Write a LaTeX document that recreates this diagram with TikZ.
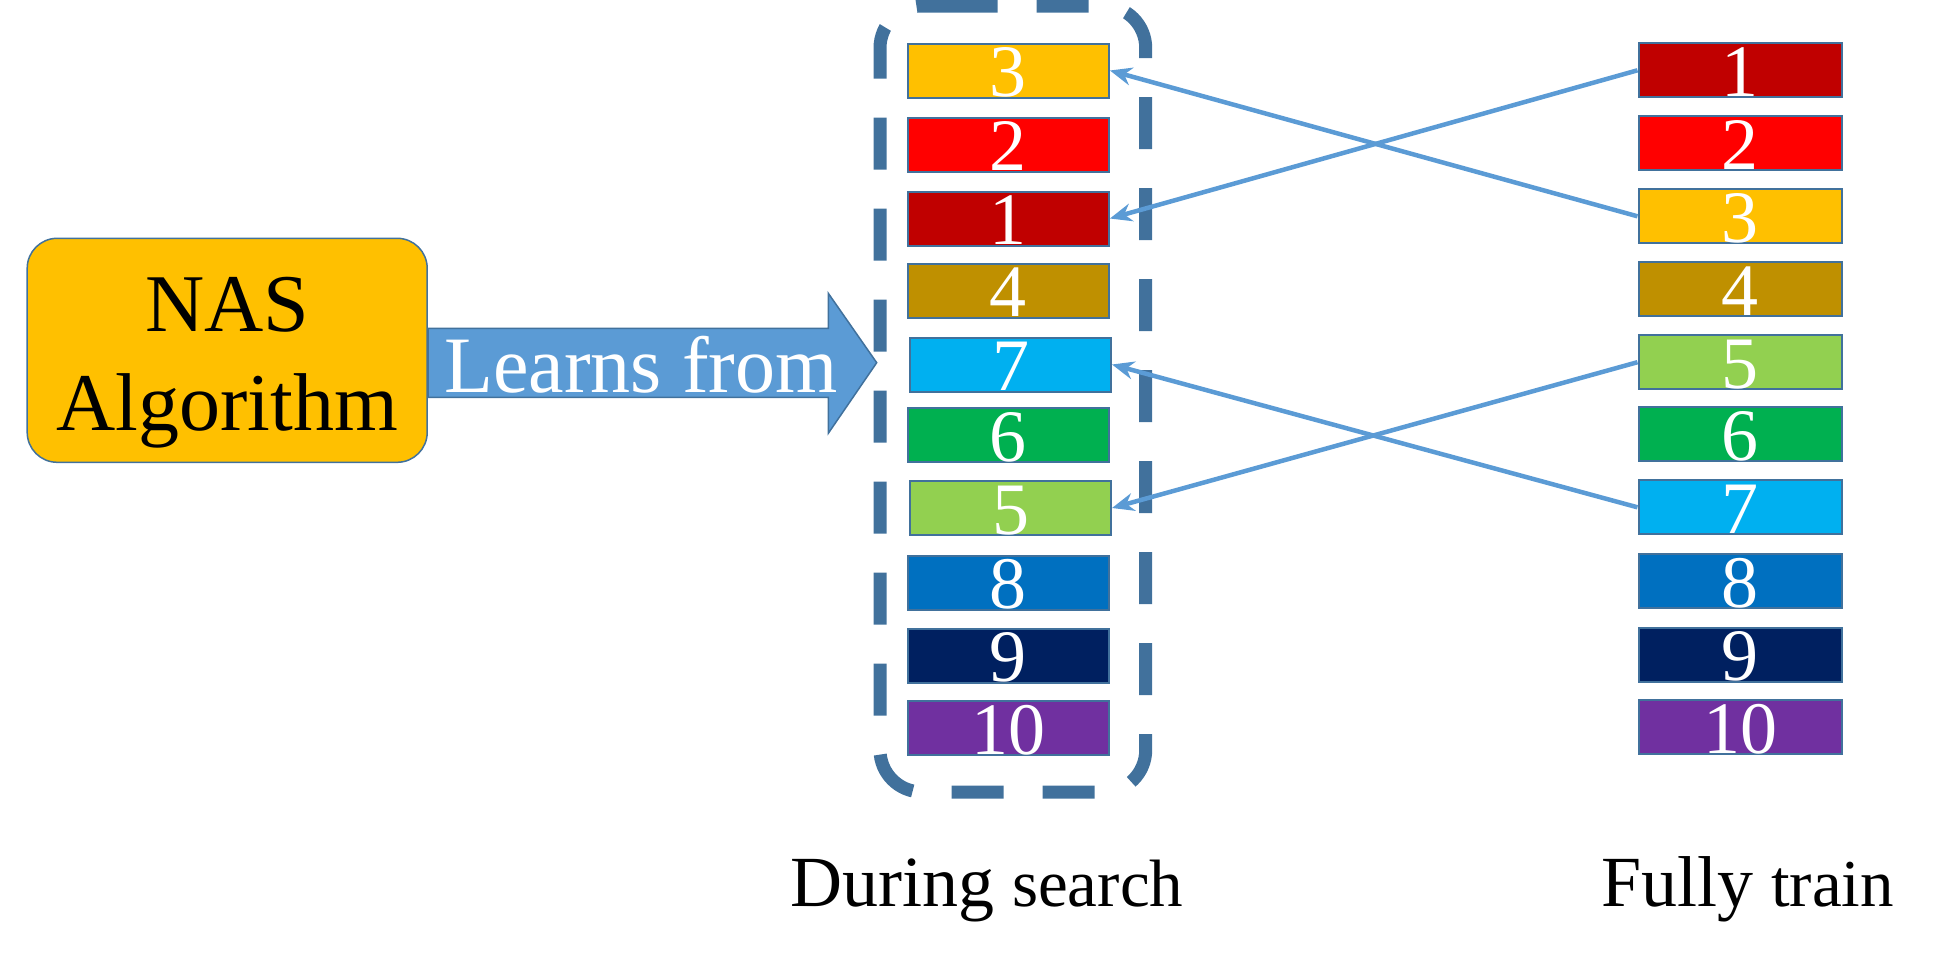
\documentclass[tikz,border=0pt]{standalone}
\usepackage{fontspec}
\setmainfont{Liberation Serif}
\usetikzlibrary{arrows.meta}
\definecolor{c1}{HTML}{C00000}
\definecolor{c2}{HTML}{FF0000}
\definecolor{c3}{HTML}{FFC000}
\definecolor{c4}{HTML}{BF9000}
\definecolor{c5}{HTML}{92D050}
\definecolor{c6}{HTML}{00B050}
\definecolor{c7}{HTML}{00B0F0}
\definecolor{c8}{HTML}{0070C0}
\definecolor{c9}{HTML}{002060}
\definecolor{c10}{HTML}{7030A0}
\definecolor{edgeblue}{HTML}{41719C}
\definecolor{connblue}{HTML}{5B9BD5}
\definecolor{nasfill}{HTML}{FFC000}
\tikzset{
  rankbox/.style={draw=edgeblue, line width=2pt, text height=52pt, text depth=0pt,
    inner ysep=1pt, inner xsep=0pt, text=white, font=\fontsize{74}{80}\selectfont},
  leftbox/.style={rankbox, minimum width=201pt},
  rightbox/.style={rankbox, minimum width=203pt},
  rankarrow/.style={draw=connblue, line width=4.5pt, -{Stealth[length=22pt,width=18pt]}},
  frame/.style={draw=edgeblue, line width=13pt, dash pattern=on 52pt off 39pt, rounded corners=42pt},
  bigtext/.style={inner sep=0pt, font=\fontsize{82}{99}\selectfont},
}
\begin{document}
\begin{tikzpicture}[x=1pt,y=-1pt]
\useasboundingbox (0,0) rectangle (1936,972);

% dashed frame around search ranking
\draw[frame] (945.7,6) -- (1145.7,6) -- (1145.7,792) -- (880,792) -- (880,6) -- (946,6);

% block arrow "Learns from"
\coordinate (ab1) at (428,328.3);
\draw[fill=connblue, draw=edgeblue, line width=1.5pt]
  (ab1) -- (828.3,328.3) -- (828.3,293.3) -- (876.7,362.7) -- (828.3,433.3)
  -- (828.3,397.3) -- (428,397.3) -- cycle;
\node[inner sep=0pt, anchor=base, text=white, font=\fontsize{80}{90}\selectfont] (learns) at (641,392.7) {Learns from};

% NAS box
\node[draw=edgeblue, line width=1.5pt, fill=nasfill, rounded corners=30pt,
      minimum width=400pt, minimum height=224pt, inner sep=0pt] (nas) at (227.2,350.3) {};
\node[bigtext, anchor=base] (nas1) at (227.5,331) {NAS};
\node[bigtext, anchor=base] (nas2) at (227.5,430) {Algorithm};

% left column (during search)
\node[leftbox, fill=c3]  (L3)  at (1008.4,70.5)  {3};
\node[leftbox, fill=c2]  (L2)  at (1008.4,144.5) {2};
\node[leftbox, fill=c1]  (L1)  at (1008.4,218.5) {1};
\node[leftbox, fill=c4]  (L4)  at (1008.4,290.5) {4};
\node[leftbox, fill=c7]  (L7)  at (1010.5,364.5) {7};
\node[leftbox, fill=c6]  (L6)  at (1008.4,435.3) {6};
\node[leftbox, fill=c5]  (L5)  at (1010.5,508)   {5};
\node[leftbox, fill=c8]  (L8)  at (1008.4,582.5) {8};
\node[leftbox, fill=c9]  (L9)  at (1008.4,655.5) {9};
\node[leftbox, fill=c10] (L10) at (1008.4,728.3) {10};

% right column (fully train)
\node[rightbox, fill=c1]  (R1)  at (1740,70.3)  {1};
\node[rightbox, fill=c2]  (R2)  at (1740,143.3) {2};
\node[rightbox, fill=c3]  (R3)  at (1740,216.3) {3};
\node[rightbox, fill=c4]  (R4)  at (1740,289)   {4};
\node[rightbox, fill=c5]  (R5)  at (1740,362.2) {5};
\node[rightbox, fill=c6]  (R6)  at (1740,434.3) {6};
\node[rightbox, fill=c7]  (R7)  at (1740,507.3) {7};
\node[rightbox, fill=c8]  (R8)  at (1740,581.3) {8};
\node[rightbox, fill=c9]  (R9)  at (1740,654.5) {9};
\node[rightbox, fill=c10] (R10) at (1740,727.2) {10};

% connectors
\draw[rankarrow] (R1.west) -- (L1.east);
\draw[rankarrow] (R3.west) -- (L3.east);
\draw[rankarrow] (R5.west) -- (L5.east);
\draw[rankarrow] (R7.west) -- (L7.east);

% captions
\node[inner sep=0pt, anchor=base west] (during) at (790,906.7)
  {\fontsize{72}{80}\selectfont During {\fontsize{67}{75}\selectfont search}};
\node[inner sep=0pt, anchor=base west] (fully) at (1601,906.7)
  {\fontsize{72}{80}\selectfont Fully {\fontsize{67}{75}\selectfont train}};
\end{tikzpicture}
\end{document}
